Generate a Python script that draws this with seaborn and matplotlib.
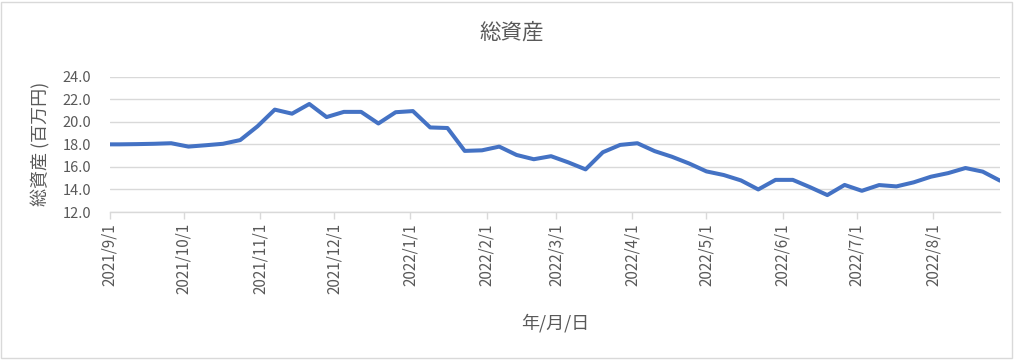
import datetime as dt
import matplotlib
matplotlib.use("Agg")
import matplotlib.pyplot as plt
import matplotlib.dates as mdates
from matplotlib.ticker import FuncFormatter, MultipleLocator
from matplotlib.patches import Rectangle
import pandas as pd
import seaborn as sns

# ---- data ----
dates = ["2021-09-01", "2021-09-05", "2021-09-12", "2021-09-19", "2021-09-26",
         "2021-10-03", "2021-10-10", "2021-10-17", "2021-10-24", "2021-10-31",
         "2021-11-07", "2021-11-14", "2021-11-21", "2021-11-28", "2021-12-05",
         "2021-12-12", "2021-12-19", "2021-12-26", "2022-01-02", "2022-01-09",
         "2022-01-16", "2022-01-23", "2022-01-30", "2022-02-06", "2022-02-13",
         "2022-02-20", "2022-02-27", "2022-03-06", "2022-03-13", "2022-03-20",
         "2022-03-27", "2022-04-03", "2022-04-10", "2022-04-17", "2022-04-24",
         "2022-05-01", "2022-05-08", "2022-05-15", "2022-05-22", "2022-05-29",
         "2022-06-05", "2022-06-12", "2022-06-19", "2022-06-26", "2022-07-03",
         "2022-07-10", "2022-07-17", "2022-07-24", "2022-07-31", "2022-08-07",
         "2022-08-14", "2022-08-21", "2022-08-28"]
total_assets = [18.0, 18.0, 18.02, 18.05, 18.1,
                17.8, 17.92, 18.05, 18.38, 19.6,
                21.08, 20.72, 21.58, 20.42, 20.88,
                20.88, 19.85, 20.85, 20.95, 19.5,
                19.45, 17.42, 17.47, 17.8, 17.06,
                16.68, 16.95, 16.4, 15.78, 17.3,
                17.95, 18.1, 17.4, 16.9, 16.3,
                15.6, 15.28, 14.8, 14.0, 14.85,
                14.85, 14.2, 13.5, 14.4, 13.88,
                14.39, 14.27, 14.63, 15.13, 15.45,
                15.9, 15.58, 14.78]
x_label = "年/月/日"
y_label = "総資産 (百万円)"
title = "総資産"

df = pd.DataFrame({"date": pd.to_datetime(dates), "value": total_assets})

# ---- style ----
sns.set_theme(style="white")
plt.rcParams["font.family"] = ["Noto Sans CJK JP", "DejaVu Sans"]
text_color = "#595959"
grid_color = "#d9d9d9"
line_color = "#4472C4"

fig = plt.figure(figsize=(10.24, 3.6), dpi=100)
ax = fig.add_axes([109.5 / 1024, 1 - 212 / 360, (1000 - 109.5) / 1024, (212 - 76.7) / 360])

sns.lineplot(data=df, x="date", y="value", ax=ax, color=line_color, linewidth=2.9)

ax.set_xlim(pd.Timestamp("2021-09-01"), pd.Timestamp("2022-08-28"))
ax.set_ylim(12, 24)
ax.yaxis.set_major_locator(MultipleLocator(2))
ax.yaxis.set_major_formatter(FuncFormatter(lambda v, p: f"{v:.1f}"))

ax.xaxis.set_major_locator(mdates.MonthLocator(bymonthday=1))
ax.xaxis.set_major_formatter(FuncFormatter(
    lambda v, p: (lambda d: f"{d.year}/{d.month}/{d.day}")(mdates.num2date(v))))

ax.grid(axis="y", color=grid_color, linewidth=1.0)
ax.set_axisbelow(True)
for s in ["top", "right", "left"]:
    ax.spines[s].set_visible(False)
ax.spines["bottom"].set_color(grid_color)
ax.spines["bottom"].set_linewidth(1.0)

ax.tick_params(axis="x", which="major", direction="out", length=5, width=1,
               color=grid_color, labelcolor=text_color, labelsize=11,
               rotation=90, pad=3, bottom=True)
ax.tick_params(axis="y", length=0, labelcolor=text_color, labelsize=10.5, pad=13)

ax.set_xlabel(x_label, color=text_color, fontsize=13, labelpad=14)
ax.set_ylabel(y_label, color=text_color, fontsize=13, labelpad=9)
fig.text(0.5, 1 - 33 / 360, title, ha="center", va="center",
         color=text_color, fontsize=15.5)

fig.patches.append(Rectangle((1 / 1024, 2 / 360), 1011 / 1024, 356 / 360,
                             transform=fig.transFigure, fill=False,
                             edgecolor=grid_color, linewidth=1.0))

fig.savefig("out.png", dpi=100, facecolor="white")
